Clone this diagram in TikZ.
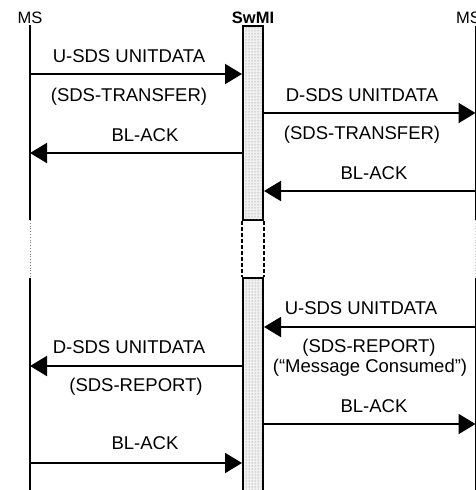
\documentclass[tikz,border=0pt]{standalone}
\usepackage{fontspec}
\setmainfont{Liberation Sans}
\usetikzlibrary{arrows.meta,patterns}
\begin{document}
\begin{tikzpicture}[x=1pt,y=-1pt,
  lbl/.style={font=\fontsize{18.5}{20}\selectfont, inner sep=0pt, anchor=center},
  head/.style={font=\fontsize{16.5}{18}\selectfont, inner sep=0pt, anchor=center},
  life/.style={line width=2pt},
  msg/.style={line width=2pt, -{Triangle[length=17pt,width=20pt]}},
  gap/.style={line width=0.8pt, dotted, gray},
  swbox/.style={draw, line width=2pt, fill=gray!12, minimum width=20pt, inner sep=0pt},
  swgap/.style={line width=2pt, dash pattern=on 4pt off 2pt}]
\useasboundingbox (0,0) rectangle (476,490);
\begin{scope}
\clip (0,0) rectangle (476,490);
% headings
\node[head] (msl) at (30,18) {MS};
\node[head, font=\fontsize{16.5}{18}\selectfont\bfseries] (sw) at (253,18) {SwMI};
\node[head, anchor=west] (msr) at (456,18) {MS};
% lifeline coordinates
\coordinate (l1) at (30,25);  \coordinate (l2) at (30,220);
\coordinate (l3) at (30,278); \coordinate (l4) at (30,492);
\coordinate (r1) at (475.5,26);  \coordinate (r2) at (475.5,220);
\coordinate (r3) at (475.5,278); \coordinate (r4) at (475.5,492);
\draw[life] (l1) -- (l2);
\draw[gap] (l2) -- (l3);
\draw[life] (l3) -- (l4);
\draw[life] (r1) -- (r2);
\draw[gap, gray!40] (r2) -- (r3);
\draw[life] (r3) -- (r4);
% SwMI boxes
\node[swbox, minimum height=194pt] (box1) at (253,123) {};
\node[swbox, minimum height=220pt] (box2) at (253,388) {};
\fill[pattern=dots, pattern color=gray] ([xshift=3pt,yshift=-2pt]box1.north west) rectangle ([xshift=-3pt,yshift=2pt]box1.south east);
\fill[pattern=dots, pattern color=gray] ([xshift=3pt,yshift=-2pt]box2.north west) rectangle ([xshift=-3pt,yshift=2pt]box2.south east);
\draw[swgap] (box1.south west) -- (box2.north west);
\draw[swgap] (box1.south east) -- (box2.north east);
% message 1
\draw[msg] (l1 |- 0,74) -- (box1.west |- 0,74);
\node[lbl] (t1) at (129,56) {U-SDS UNITDATA};
\node[lbl] (t1b) at (129,97) {(SDS-TRANSFER)};
% message 2
\draw[msg] (box1.west |- 0,153) -- (l1 |- 0,153);
\node[lbl] (t2) at (145,135) {BL-ACK};
% message 3
\draw[msg] (box1.east |- 0,113) -- (r1 |- 0,113);
\node[lbl] (t3) at (362,95) {D-SDS UNITDATA};
\node[lbl] (t3b) at (362,135) {(SDS-TRANSFER)};
% message 4
\draw[msg] (r1 |- 0,191) -- (box1.east |- 0,191);
\node[lbl] (t4) at (374,173) {BL-ACK};
% message 5
\draw[msg] (r1 |- 0,327) -- (box2.east |- 0,327);
\node[lbl] (t5) at (361,308) {U-SDS UNITDATA};
\node[lbl] (t5b) at (369,348) {(SDS-REPORT)};
\node[lbl] (t5c) at (370,368) {(“Message Consumed”)};
% message 6
\draw[msg] (box2.west |- 0,366) -- (l1 |- 0,366);
\node[lbl] (t6) at (129,347) {D-SDS UNITDATA};
\node[lbl] (t6b) at (136,387) {(SDS-REPORT)};
% message 7
\draw[msg] (box2.east |- 0,424) -- (r1 |- 0,424);
\node[lbl] (t7) at (374,406) {BL-ACK};
% message 8
\draw[msg] (l1 |- 0,463) -- (box2.west |- 0,463);
\node[lbl] (t8) at (145,443) {BL-ACK};
\end{scope}
\end{tikzpicture}
\end{document}
